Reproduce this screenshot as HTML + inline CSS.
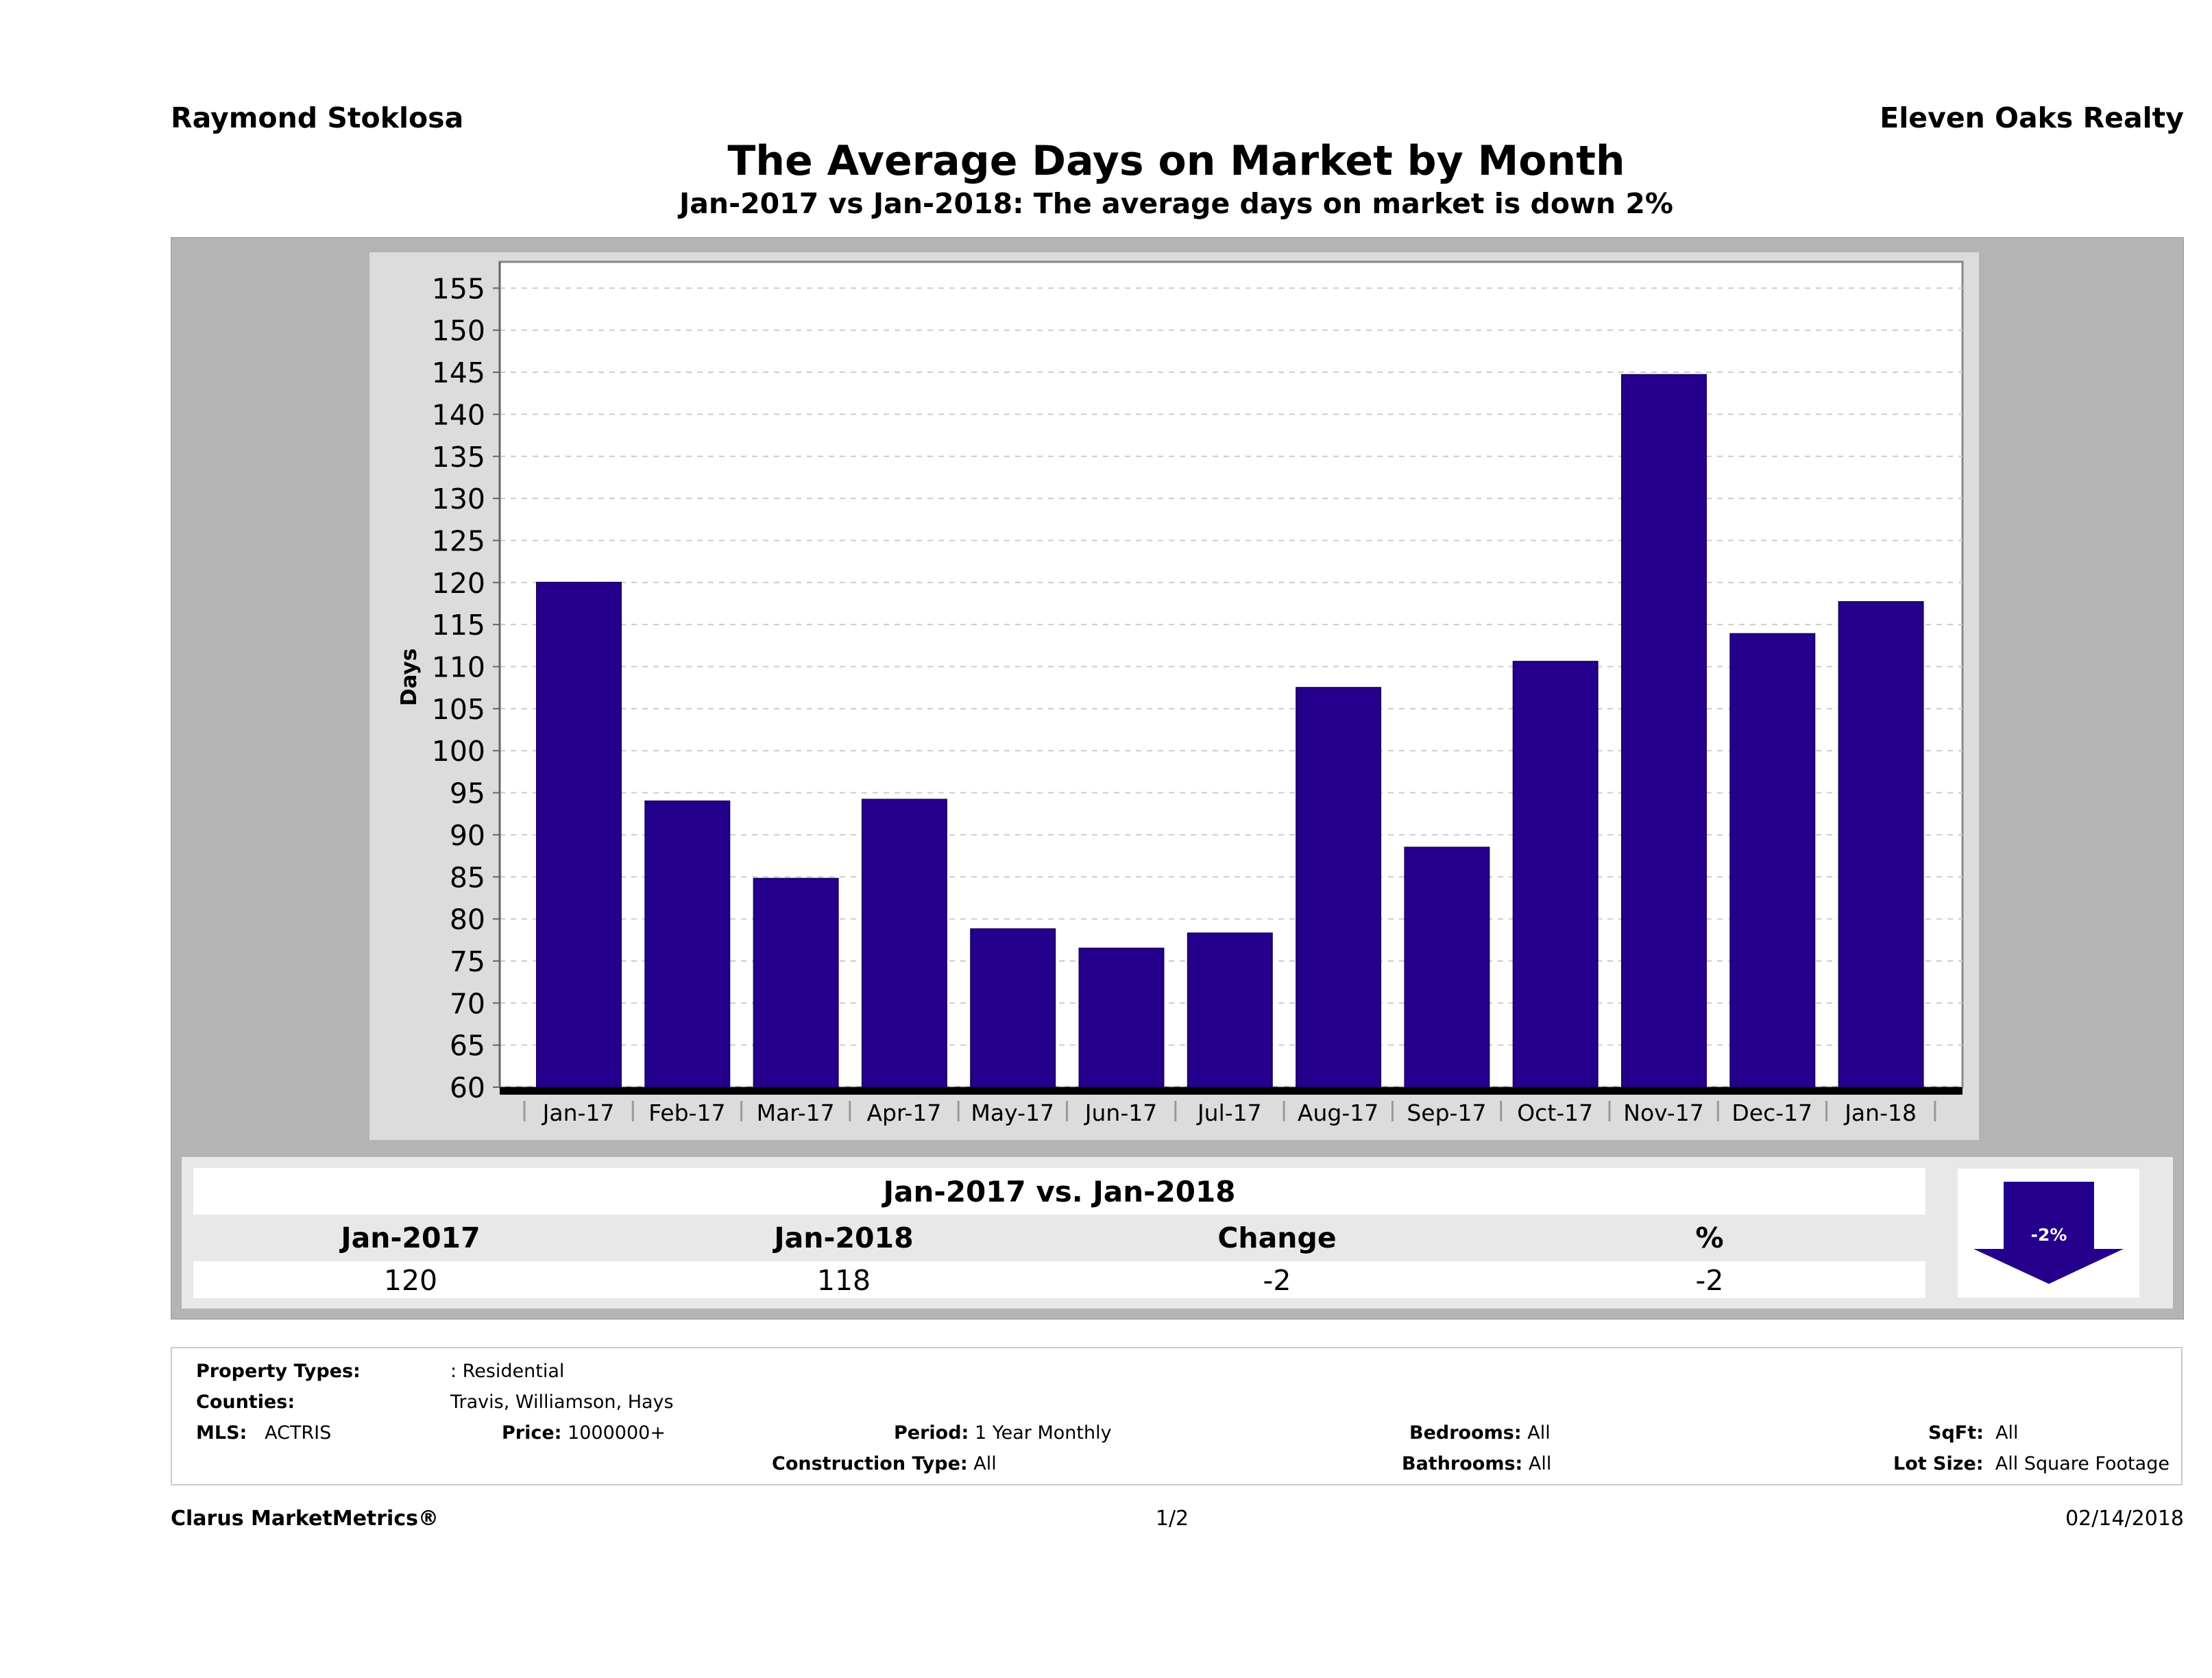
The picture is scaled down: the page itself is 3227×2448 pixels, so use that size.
<!DOCTYPE html>
<html><head><meta charset="utf-8">
<style>
body{margin:0;width:3227px;height:2448px;background:#fff;position:relative;overflow:hidden;font-family:"DejaVu Sans","Liberation Sans",sans-serif;color:#000}
.a{position:absolute;white-space:nowrap}
.b{font-weight:bold}
.f{font-size:27px;line-height:29px}
</style></head><body>
<div class="a b" style="left:249px;top:148px;font-size:41px">Raymond Stoklosa</div>
<div class="a b" style="right:41px;top:148px;font-size:41px">Eleven Oaks Realty</div>
<div class="a b" style="left:0;width:3432px;text-align:center;top:200px;font-size:60px">The Average Days on Market by Month</div>
<div class="a b" style="left:0;width:3432px;text-align:center;top:273px;font-size:41px">Jan-2017 vs Jan-2018: The average days on market is down 2%</div>

<div class="a" style="left:249px;top:346px;width:2935px;height:1577px;background:#b4b4b4;border:1px solid #999"></div>
<div class="a" style="left:539px;top:368px;width:2348px;height:1295px;background:#dcdcdc"></div>

<svg class="a" style="left:0;top:0" width="3227" height="1700">
<g id="g"></g>
</svg>

<div class="a" style="left:265px;top:1688px;width:2905px;height:221px;background:#e8e8e8"></div>
<div class="a" style="left:282px;top:1704px;width:2527px;height:68px;background:#fff"></div>
<div class="a" style="left:282px;top:1840px;width:2527px;height:54px;background:#fff"></div>
<div class="a b" style="left:282px;width:2527px;text-align:center;top:1714px;font-size:42px">Jan-2017 vs. Jan-2018</div>
<div class="a b" style="left:399px;width:400px;text-align:center;top:1782px;font-size:41px">Jan-2017</div>
<div class="a b" style="left:1031px;width:400px;text-align:center;top:1782px;font-size:41px">Jan-2018</div>
<div class="a b" style="left:1663px;width:400px;text-align:center;top:1782px;font-size:41px">Change</div>
<div class="a b" style="left:2294px;width:400px;text-align:center;top:1782px;font-size:41px">%</div>
<div class="a" style="left:399px;width:400px;text-align:center;top:1844px;font-size:41px">120</div>
<div class="a" style="left:1031px;width:400px;text-align:center;top:1844px;font-size:41px">118</div>
<div class="a" style="left:1663px;width:400px;text-align:center;top:1844px;font-size:41px">-2</div>
<div class="a" style="left:2294px;width:400px;text-align:center;top:1844px;font-size:41px">-2</div>
<div class="a" style="left:2856px;top:1705px;width:265px;height:188px;background:#fff"></div>
<svg class="a" style="left:0;top:0" width="3227" height="1900">
<polygon points="2923,1724 3055,1724 3055,1822 3098,1822 2989,1873 2879,1822 2923,1822" fill="#25008c"/>
<text x="2989" y="1810" text-anchor="middle" font-size="25" font-weight="bold" fill="#fff" font-family="DejaVu Sans,sans-serif">-2%</text>
</svg>

<div class="a" style="left:249px;top:1965px;width:2935px;height:202px;border:2px solid #ccc;box-sizing:border-box"></div>
<div class="a f b" style="left:286px;top:1986px">Property Types:</div>
<div class="a f" style="left:657px;top:1986px">: Residential</div>
<div class="a f b" style="left:286px;top:2031px">Counties:</div>
<div class="a f" style="left:657px;top:2031px">Travis, Williamson, Hays</div>
<div class="a f" style="left:286px;top:2076px"><b>MLS:</b>&nbsp;&nbsp; ACTRIS</div>
<div class="a f" style="left:732px;top:2076px"><b>Price:</b> 1000000+</div>
<div class="a f" style="left:1304px;top:2076px"><b>Period:</b> 1 Year Monthly</div>
<div class="a f" style="left:1126px;top:2121px"><b>Construction Type:</b> All</div>
<div class="a f" style="left:2056px;top:2076px"><b>Bedrooms:</b> All</div>
<div class="a f" style="left:2045px;top:2121px"><b>Bathrooms:</b> All</div>
<div class="a f" style="left:2813px;top:2076px"><b>SqFt:</b>&nbsp; All</div>
<div class="a f" style="left:2762px;top:2121px"><b>Lot Size:</b>&nbsp; All Square Footage</div>

<div class="a b" style="left:249px;top:2198px;font-size:30px">Clarus MarketMetrics®</div>
<div class="a" style="left:1650px;width:120px;text-align:center;top:2198px;font-size:30px">1/2</div>
<div class="a" style="right:41px;top:2198px;font-size:30px">02/14/2018</div>

<script>
const categories=["Jan-17","Feb-17","Mar-17","Apr-17","May-17","Jun-17","Jul-17","Aug-17","Sep-17","Oct-17","Nov-17","Dec-17","Jan-18"];
const values=[120,94,84.8,94.2,78.8,76.5,78.3,107.5,88.5,110.6,144.7,113.9,117.7];
const yTicks=[60,65,70,75,80,85,90,95,100,105,110,115,120,125,130,135,140,145,150,155];
const NS="http://www.w3.org/2000/svg";
const g=document.getElementById('g');
const L=729,R=2863,T=382,B=1586;
const y=v=>1586-(v-60)*12.27;
const step=158.3,x0=844;
const bx=i=>x0+i*step;
function mk(t,a,p){const e=document.createElementNS(NS,t);for(const k in a)e.setAttribute(k,a[k]);(p||g).appendChild(e);return e;}
let bg=mk('rect',{x:L,y:T,width:R-L,height:B-T,fill:'#fff',stroke:'#888','stroke-width':3});


yTicks.forEach(v=>{
  let gl=mk('line',{x1:L,x2:R,y1:y(v),y2:y(v),stroke:'#ccc','stroke-width':2,'stroke-dasharray':'8,8'});
  
  
  mk('line',{x1:L-10,x2:L,y1:y(v),y2:y(v),stroke:'#666','stroke-width':2});
  let t=mk('text',{x:708,y:y(v)+15,'text-anchor':'end','font-size':41,'font-family':'DejaVu Sans,sans-serif'});
  t.textContent=v;
  
  
});
categories.forEach((c,i)=>{
  let r=mk('rect',{x:bx(i)-61,y:y(values[i]),width:123,height:B-y(values[i]),fill:'#25008c',stroke:'#1a0066','stroke-width':2});
  
  
  mk('line',{x1:bx(i)-79,x2:bx(i)-79,y1:1606,y2:1636,stroke:'#999','stroke-width':3});
  let t=mk('text',{x:bx(i),y:1635,'text-anchor':'middle','font-size':33,'font-family':'DejaVu Sans,sans-serif'});
  t.textContent=c;
  
  
});
mk('line',{x1:bx(13)-79,x2:bx(13)-79,y1:1606,y2:1636,stroke:'#999','stroke-width':3});
mk('rect',{x:L,y:B,width:R-L,height:11,fill:'#000'});
mk('line',{x1:L,x2:L,y1:T,y2:B,stroke:'#666','stroke-width':3});
let yt=mk('text',{x:0,y:0,transform:'translate(607,988) rotate(-90)','text-anchor':'middle','font-size':31,'font-weight':'bold','font-family':'DejaVu Sans,sans-serif'});
yt.textContent='Days';


</script>
</body></html>
